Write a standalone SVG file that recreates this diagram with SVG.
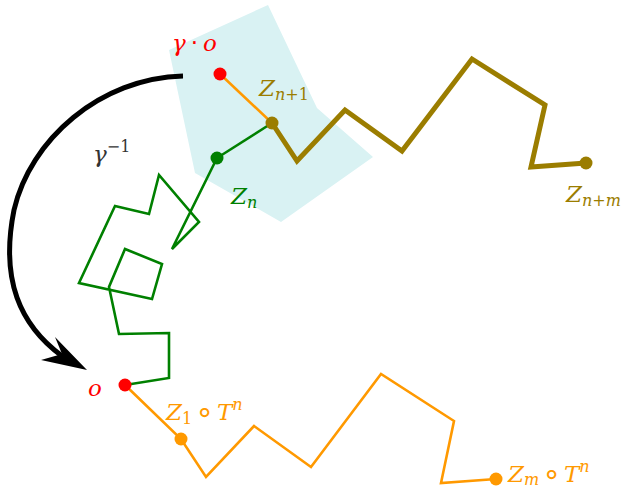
<svg xmlns="http://www.w3.org/2000/svg" width="629" height="490" viewBox="0 0 629 490">
<style>
.lbl{font-family:"DejaVu Serif","Liberation Serif",serif;font-style:italic;font-size:23px}
.sub{font-size:16px}
.up{font-style:normal}
.op{font-family:"DejaVu Sans",sans-serif;font-style:normal}
.ring{font-family:"DejaVu Sans",sans-serif;font-style:normal;font-size:30px}
.path{fill:none;stroke-linejoin:miter;stroke-linecap:butt}
</style>
<rect width="629" height="490" fill="#ffffff"/>
<polygon id="region" points="169,50 268,5 317,108 373,157 281,222 195,173" fill="#d9f2f3"/>
<g id="connectors">
  <path class="path" d="M217,158 L172,249 L199,222 L159,175 L149,214 L115,206 L79,283 L152,299 L162,264 L125,249 L109,287 L119,334 L169,333 L169,378 L125,385" stroke="#008000" stroke-width="2.6"/>
  <path class="path" d="M217,158 L272,123" stroke="#008000" stroke-width="2.6"/>
  <path class="path" d="M220,74 L272,123" stroke="#ff9900" stroke-width="2.6"/>
  <path class="path" d="M272,123 L297,161 L345,110 L402,151 L472,59 L545,105 L531,167 L586,163" stroke="#9b7d00" stroke-width="5"/>
  <path class="path" d="M125,385 L181,439 L206,477 L254,426 L311,467 L381,374 L454,421 L441,483 L496,479" stroke="#ff9900" stroke-width="2.6"/>
  <path class="path" d="M183,76 C100,78 30,140 14,210 C0,280 20,325 62,356" stroke="#000" stroke-width="5"/>
  <polygon points="87,370 41,360 62,354 55,337" fill="#000"/>
</g>
<g id="gamma-o">
  <circle cx="220" cy="74" r="6.5" fill="#ff0000"/>
  <text class="lbl" x="172" y="51" fill="#ff0000">γ<tspan class="op" dx="5">·</tspan><tspan dx="5">o</tspan></text>
</g>
<g id="Zn1">
  <circle cx="272" cy="123" r="6.5" fill="#9b7d00"/>
  <text class="lbl" x="259" y="96" fill="#9b7d00">Z<tspan class="sub" dy="4">n<tspan class="up">+1</tspan></tspan></text>
</g>
<g id="Zn">
  <circle cx="217" cy="158" r="6.5" fill="#008000"/>
  <text class="lbl" x="231" y="204" fill="#008000">Z<tspan class="sub" dy="4">n</tspan></text>
</g>
<g id="Znm">
  <circle cx="586" cy="163" r="6.5" fill="#9b7d00"/>
  <text class="lbl" x="566" y="202" fill="#9b7d00">Z<tspan class="sub" dy="4">n<tspan class="up">+</tspan>m</tspan></text>
</g>
<g id="gamma-inv">
  <text class="lbl" x="93" y="162" fill="#333333">γ<tspan class="sub" dy="-10"><tspan class="up">−1</tspan></tspan></text>
</g>
<g id="o">
  <circle cx="125" cy="385" r="6.5" fill="#ff0000"/>
  <text class="lbl" x="88" y="396" fill="#ff0000">o</text>
</g>
<g id="Z1Tn">
  <circle cx="181" cy="439" r="6.5" fill="#ff9900"/>
  <text class="lbl" x="166" y="420" fill="#ff9900">Z<tspan class="sub up" dy="4">1</tspan><tspan class="ring" dx="3" dy="-2">∘</tspan><tspan dx="3" dy="-2">T</tspan><tspan class="sub" dy="-10">n</tspan></text>
</g>
<g id="ZmTn">
  <circle cx="496" cy="479" r="6.5" fill="#ff9900"/>
  <text class="lbl" x="508" y="482" fill="#ff9900">Z<tspan class="sub" dy="3">m</tspan><tspan class="ring" dx="3" dy="-1">∘</tspan><tspan dx="3" dy="-2">T</tspan><tspan class="sub" dy="-10">n</tspan></text>
</g>
</svg>
